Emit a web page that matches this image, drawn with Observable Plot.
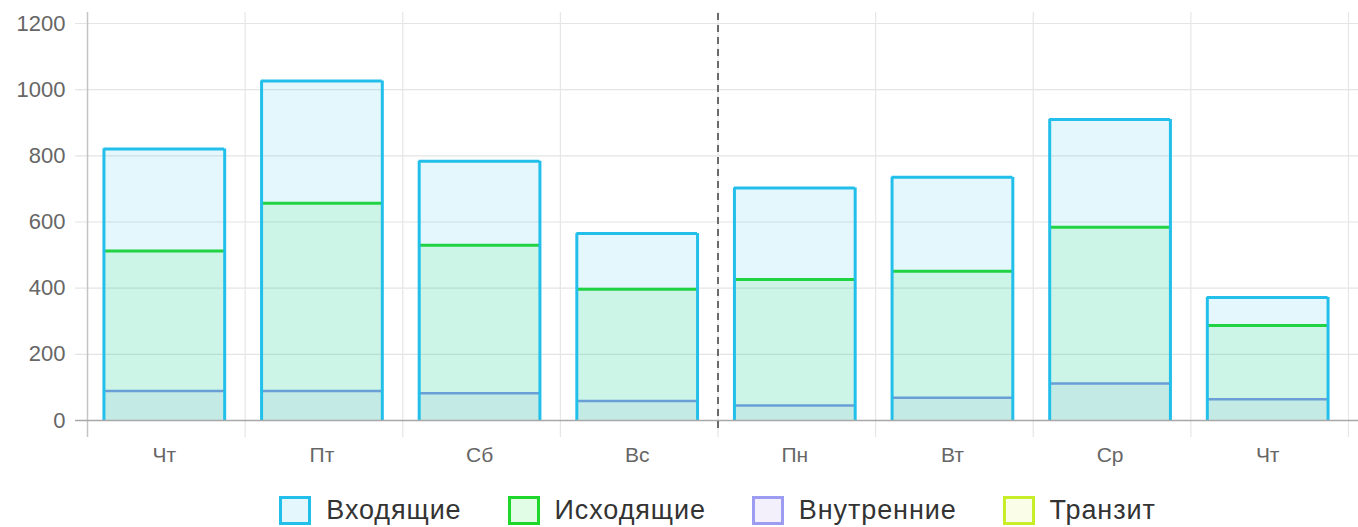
<!DOCTYPE html>
<html><head><meta charset="utf-8">
<script src="https://cdn.jsdelivr.net/npm/d3@7"></script>
<script src="https://cdn.jsdelivr.net/npm/@observablehq/plot@0.6"></script>
<style>
body{margin:0;background:#fff;font-family:"Liberation Sans",Arial,sans-serif;}
#legend{display:flex;justify-content:center;align-items:center;gap:46px;padding-left:87px;padding-right:10px;padding-top:10px;height:40px;}
.item{display:flex;align-items:center;gap:15px;font-size:27px;letter-spacing:0.9px;color:#333;}
.box{width:26px;height:23px;border:3px solid;}
</style></head><body>
<div id="chart"></div><div id="legend"></div>
<script>
const days = ["Чт","Пт","Сб","Вс","Пн","Вт","Ср","Чт"];
const incoming = [821, 1026, 784, 565, 703, 735, 910, 372];
const outgoing = [512, 657, 530, 397, 426, 451, 584, 287];
const internal = [89, 89, 82, 59, 45, 69, 112, 64];
const transit = [0, 0, 0, 0, 0, 0, 0, 0];
const seriesNames = ["Входящие","Исходящие","Внутренние","Транзит"];
const seriesValues = [incoming, outgoing, internal, transit];
const strokeColors = ["#22bfea","#1fd62a","#7f8fea","#c8ee2a"];
const legendColors = ["#22bfea","#1fd62a","#9c9cf2","#c8ee2a"];
const fillColors = ["#25bfe9","#10f030","#a080e0","#d8f040"];
const fillOpac = [0.13, 0.11, 0.10, 0.1];
const yTicks = [0,200,400,600,800,1000,1200];
const dividerAt = 4;

const W = 1358, H = 480, ML = 87, MR = 10, MT = 23, MB = H - 420;
const k = (H - MB - MT) / 1200;
const bw = (W - ML - MR) / days.length;
const pad = 0.117;

const rows = seriesValues.map((vals, s) => vals.map((v, i) => ({i, v, s})));
const bounds = d3.range(days.length + 1);

const marks = [
  Plot.ruleY(yTicks.slice(1), {x1: -12 / bw, x2: days.length + MR / bw, stroke: "#e4e4e4", strokeWidth: 1.2}),
  Plot.ruleX(bounds.slice(1), {y1: -17 / k, y2: (H - MB - 12) / k, stroke: "#e6e6e6", strokeWidth: 1.2}),
  Plot.ruleX([0], {y1: -17 / k, y2: (H - MB - 12) / k, stroke: "#c4c4c4", strokeWidth: 1.5}),
];
for (let s = seriesValues.length - 1; s >= 0; s--) {
  const data = rows[s].filter(d => d.v > 0);
  marks.push(Plot.rectY(data, {x1: d => d.i + pad, x2: d => d.i + 1 - pad, y1: 0, y2: "v", dx: -2,
    fill: fillColors[s], fillOpacity: fillOpac[s]}));
  marks.push(Plot.ruleY(data, {y: "v", x1: d => d.i + pad, x2: d => d.i + 1 - pad, dx: -2,
    stroke: strokeColors[s], strokeWidth: s === 2 ? 2.5 : 3}));
  if (s === 0) {
    marks.push(Plot.ruleX(data, {x: d => d.i + pad, y1: 0, y2: "v", dx: -2, stroke: strokeColors[s], strokeWidth: 3}));
    marks.push(Plot.ruleX(data, {x: d => d.i + 1 - pad, y1: 0, y2: "v", dx: -2, stroke: strokeColors[s], strokeWidth: 3}));
  }
}
marks.push(Plot.ruleY([0], {x1: -12 / bw, x2: days.length + MR / bw, stroke: "#a8a8a8", strokeWidth: 1.5}));
marks.push(Plot.ruleX([dividerAt], {y1: -8 / k, y2: (H - MB - 10) / k, stroke: "#6a6a6a", strokeWidth: 2, strokeDasharray: "7,5"}));
marks.push(Plot.axisY({ticks: yTicks, tickSize: 0, tickPadding: 22, fontSize: 22, color: "#666", label: null, tickFormat: d => String(d)}));
marks.push(Plot.axisX({ticks: days.map((_, i) => i + 0.5), tickFormat: d => days[Math.floor(d)], tickSize: 0, tickPadding: 27, fontSize: 21, color: "#666", label: null, dx: -2}));

const chart = Plot.plot({
  width: W, height: H,
  marginLeft: ML, marginRight: MR, marginTop: MT, marginBottom: MB,
  style: {fontFamily: "'Liberation Sans', Arial, sans-serif", background: "#fff", overflow: "visible"},
  x: {type: "linear", domain: [0, days.length], axis: null},
  y: {domain: [0, 1200], axis: null},
  marks
});
document.getElementById("chart").appendChild(chart);

const legend = document.getElementById("legend");
seriesNames.forEach((name, s) => {
  const item = document.createElement("div");
  item.className = "item";
  const box = document.createElement("span");
  box.className = "box";
  box.style.borderColor = legendColors[s];
  box.style.background = d3.color(fillColors[s]).copy({opacity: 0.12}).formatRgb();
  const t = document.createElement("span");
  t.textContent = name;
  item.appendChild(box); item.appendChild(t);
  legend.appendChild(item);
});
</script>
</body></html>
